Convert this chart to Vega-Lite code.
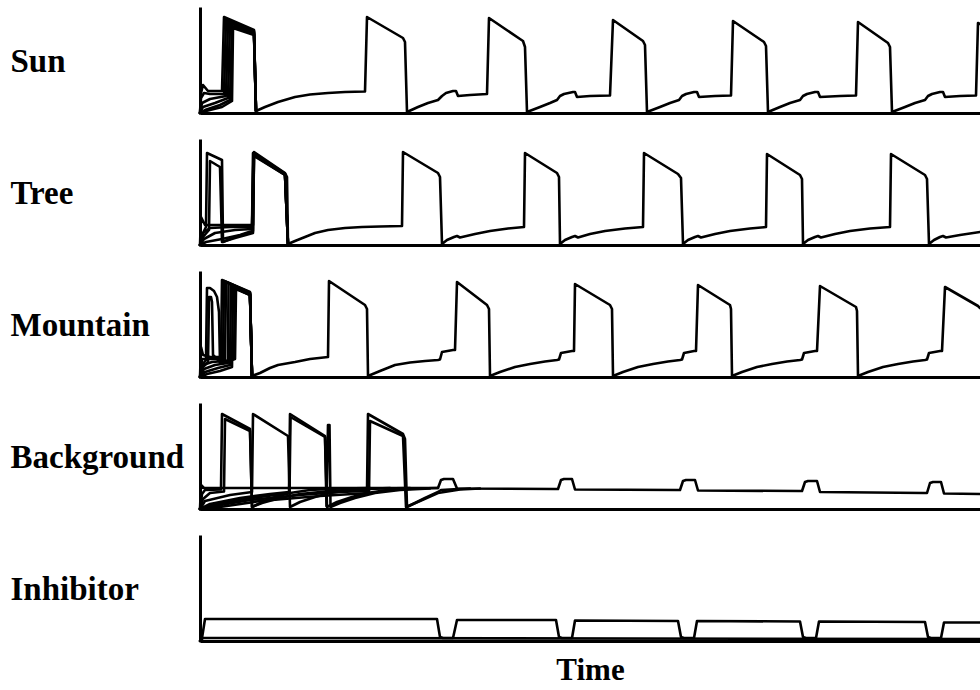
{
"$schema": "https://vega.github.io/schema/vega-lite/v6.json",
"background": "white",
"padding": {"left": 10, "top": 7, "right": 0, "bottom": 0},
"spacing": 26,
"bounds": "flush",
"config": {
  "view": {"stroke": null},
  "axis": {"grid": false, "ticks": false, "labels": false, "domainColor": "black", "domainWidth": 3, "titleFont": "Liberation Serif", "titleFontSize": 33, "titleFontWeight": "bold", "titleColor": "black"},
  "axisY": {"titleAngle": 0, "titleAlign": "left", "titleBaseline": "middle", "titleX": -190, "titleY": 54},
  "line": {"color": "black", "strokeWidth": 2.6, "strokeCap": "round", "strokeJoin": "round"}
},
"datasets": {
"sun": [
{"s":"a","t":0,"v":0},{"s":"a","t":1,"v":20},{"s":"a","t":3,"v":28},{"s":"a","t":8,"v":22},{"s":"a","t":22,"v":22},{"s":"a","t":24,"v":96},{"s":"a","t":54,"v":83},{"s":"a","t":56,"v":2},{"s":"a","t":65,"v":6},{"s":"a","t":78,"v":11},{"s":"a","t":95,"v":16},{"s":"a","t":110,"v":18.5},{"s":"a","t":128,"v":20},{"s":"a","t":145,"v":21},{"s":"a","t":165,"v":21.5},{"s":"a","t":167,"v":96},{"s":"a","t":203,"v":75},{"s":"a","t":205,"v":71},{"s":"a","t":207,"v":1},
{"s":"a","t":218,"v":6},{"s":"a","t":228,"v":10},{"s":"a","t":238,"v":13},{"s":"a","t":242,"v":17},{"s":"a","t":246,"v":20},{"s":"a","t":253,"v":22},{"s":"a","t":256,"v":22},{"s":"a","t":258,"v":17},{"s":"a","t":270,"v":18},{"s":"a","t":287,"v":19},{"s":"a","t":289,"v":95},{"s":"a","t":320,"v":74},{"s":"a","t":323,"v":72},{"s":"a","t":325,"v":66},{"s":"a","t":327,"v":1},
{"s":"a","t":340,"v":6},{"s":"a","t":350,"v":10},{"s":"a","t":357,"v":13},{"s":"a","t":360,"v":17},{"s":"a","t":364,"v":19},{"s":"a","t":373,"v":21},{"s":"a","t":375,"v":21},{"s":"a","t":377,"v":16},{"s":"a","t":390,"v":17},{"s":"a","t":410,"v":17.5},{"s":"a","t":413,"v":93},{"s":"a","t":443,"v":72},{"s":"a","t":445,"v":68},{"s":"a","t":447,"v":1},
{"s":"a","t":460,"v":6},{"s":"a","t":470,"v":10},{"s":"a","t":479,"v":13},{"s":"a","t":482,"v":17},{"s":"a","t":486,"v":19},{"s":"a","t":494,"v":21},{"s":"a","t":497,"v":21},{"s":"a","t":499,"v":16},{"s":"a","t":515,"v":17},{"s":"a","t":531,"v":17.5},{"s":"a","t":533,"v":92},{"s":"a","t":564,"v":71},{"s":"a","t":566,"v":67},{"s":"a","t":568,"v":1},
{"s":"a","t":580,"v":6},{"s":"a","t":590,"v":10},{"s":"a","t":600,"v":13},{"s":"a","t":603,"v":17},{"s":"a","t":607,"v":19},{"s":"a","t":615,"v":21},{"s":"a","t":618,"v":21},{"s":"a","t":620,"v":16},{"s":"a","t":640,"v":17},{"s":"a","t":656,"v":17.5},{"s":"a","t":658,"v":91},{"s":"a","t":688,"v":70},{"s":"a","t":690,"v":66},{"s":"a","t":692,"v":1},
{"s":"a","t":705,"v":6},{"s":"a","t":715,"v":10},{"s":"a","t":725,"v":13},{"s":"a","t":728,"v":17},{"s":"a","t":732,"v":19},{"s":"a","t":740,"v":21},{"s":"a","t":743,"v":21},{"s":"a","t":745,"v":16},{"s":"a","t":760,"v":17},{"s":"a","t":776,"v":17.5},{"s":"a","t":778,"v":90},{"s":"a","t":780,"v":89},
{"s":"b","t":0,"v":0},{"s":"b","t":1,"v":15},{"s":"b","t":4,"v":20},{"s":"b","t":10,"v":19},{"s":"b","t":24,"v":19},{"s":"b","t":26,"v":94},{"s":"b","t":54,"v":82},{"s":"b","t":56,"v":2},
{"s":"c","t":0,"v":0},{"s":"c","t":2,"v":10},{"s":"c","t":10,"v":14},{"s":"c","t":26,"v":17},{"s":"c","t":28,"v":92},{"s":"c","t":54,"v":81},{"s":"c","t":56,"v":2},
{"s":"d","t":0,"v":0},{"s":"d","t":3,"v":6},{"s":"d","t":15,"v":10},{"s":"d","t":28,"v":15},{"s":"d","t":30,"v":90},{"s":"d","t":54,"v":80},{"s":"d","t":56,"v":2},
{"s":"e","t":0,"v":0},{"s":"e","t":5,"v":3},{"s":"e","t":20,"v":8},{"s":"e","t":30,"v":13},{"s":"e","t":32,"v":87},{"s":"e","t":54,"v":79},{"s":"e","t":56,"v":2},
{"s":"f","t":0,"v":0},{"s":"f","t":6,"v":2},{"s":"f","t":22,"v":6},{"s":"f","t":32,"v":12},{"s":"f","t":33,"v":85},{"s":"f","t":54,"v":78},{"s":"f","t":56,"v":2}
],
"tree": [
{"s":"a","t":0,"v":0},{"s":"a","t":1,"v":28},{"s":"a","t":3,"v":24},{"s":"a","t":5,"v":20},{"s":"a","t":53,"v":20},{"s":"a","t":54,"v":93},{"s":"a","t":85,"v":72},{"s":"a","t":87,"v":68},{"s":"a","t":88,"v":1},
{"s":"a","t":95,"v":4},{"s":"a","t":105,"v":8},{"s":"a","t":115,"v":12},{"s":"a","t":128,"v":15},{"s":"a","t":145,"v":17},{"s":"a","t":162,"v":18},{"s":"a","t":180,"v":18.5},{"s":"a","t":202,"v":19},{"s":"a","t":203,"v":93},{"s":"a","t":238,"v":72},{"s":"a","t":240,"v":68},{"s":"a","t":242,"v":1},
{"s":"a","t":247,"v":5},{"s":"a","t":254,"v":8},{"s":"a","t":257,"v":9},{"s":"a","t":260,"v":7.5},{"s":"a","t":275,"v":11},{"s":"a","t":290,"v":14},{"s":"a","t":308,"v":16.5},{"s":"a","t":324,"v":18},{"s":"a","t":325,"v":92},{"s":"a","t":357,"v":72},{"s":"a","t":359,"v":68},{"s":"a","t":360,"v":1},
{"s":"a","t":365,"v":5},{"s":"a","t":372,"v":8},{"s":"a","t":375,"v":9},{"s":"a","t":378,"v":7.5},{"s":"a","t":390,"v":11},{"s":"a","t":405,"v":14},{"s":"a","t":425,"v":16.5},{"s":"a","t":443,"v":18},{"s":"a","t":444,"v":92},{"s":"a","t":478,"v":71},{"s":"a","t":481,"v":67},{"s":"a","t":483,"v":1},
{"s":"a","t":488,"v":5},{"s":"a","t":495,"v":8},{"s":"a","t":498,"v":9},{"s":"a","t":501,"v":7.5},{"s":"a","t":515,"v":11},{"s":"a","t":530,"v":14},{"s":"a","t":550,"v":16.5},{"s":"a","t":566,"v":18},{"s":"a","t":567,"v":91},{"s":"a","t":600,"v":70},{"s":"a","t":602,"v":66},{"s":"a","t":603,"v":1},
{"s":"a","t":608,"v":5},{"s":"a","t":615,"v":8},{"s":"a","t":618,"v":9},{"s":"a","t":621,"v":7.5},{"s":"a","t":635,"v":11},{"s":"a","t":650,"v":14},{"s":"a","t":670,"v":16.5},{"s":"a","t":690,"v":18},{"s":"a","t":691,"v":91},{"s":"a","t":725,"v":70},{"s":"a","t":727,"v":66},{"s":"a","t":729,"v":1},
{"s":"a","t":734,"v":5},{"s":"a","t":740,"v":8},{"s":"a","t":743,"v":9},{"s":"a","t":746,"v":7.5},{"s":"a","t":760,"v":10},{"s":"a","t":780,"v":13},
{"s":"b","t":0,"v":0},{"s":"b","t":2,"v":10},{"s":"b","t":6,"v":18},{"s":"b","t":7,"v":92},{"s":"b","t":22,"v":85},{"s":"b","t":23,"v":3},{"s":"b","t":35,"v":8},{"s":"b","t":52,"v":13},{"s":"b","t":53,"v":14},{"s":"b","t":54,"v":91},{"s":"b","t":85,"v":71},{"s":"b","t":88,"v":1},
{"s":"c","t":0,"v":0},{"s":"c","t":3,"v":8},{"s":"c","t":9,"v":15},{"s":"c","t":10,"v":84},{"s":"c","t":20,"v":78},{"s":"c","t":22,"v":3},{"s":"c","t":35,"v":7},{"s":"c","t":53,"v":12},{"s":"c","t":54,"v":89},{"s":"c","t":85,"v":70},{"s":"c","t":88,"v":1},
{"s":"d","t":0,"v":0},{"s":"d","t":3,"v":12},{"s":"d","t":10,"v":17},{"s":"d","t":30,"v":18},{"s":"d","t":52,"v":18},{"s":"d","t":53,"v":92},{"s":"d","t":85,"v":71.5},{"s":"d","t":88,"v":1},
{"s":"e","t":0,"v":0},{"s":"e","t":4,"v":6},{"s":"e","t":15,"v":12},{"s":"e","t":35,"v":15},{"s":"e","t":52,"v":16},{"s":"e","t":53.5,"v":91},{"s":"e","t":85,"v":70.5},{"s":"e","t":88,"v":1},
{"s":"f","t":0,"v":0},{"s":"f","t":6,"v":3},{"s":"f","t":22,"v":6},{"s":"f","t":40,"v":10},{"s":"f","t":52,"v":14},{"s":"f","t":53.5,"v":90},{"s":"f","t":85,"v":70},{"s":"f","t":88,"v":1}
],
"mountain": [
{"s":"a","t":0,"v":0},{"s":"a","t":1,"v":30},{"s":"a","t":3,"v":22},{"s":"a","t":10,"v":20},{"s":"a","t":21,"v":20},{"s":"a","t":22,"v":97},{"s":"a","t":50,"v":85},{"s":"a","t":52,"v":1},
{"s":"a","t":60,"v":4},{"s":"a","t":70,"v":9},{"s":"a","t":78,"v":12},{"s":"a","t":95,"v":15},{"s":"a","t":110,"v":18},{"s":"a","t":128,"v":20},{"s":"a","t":129,"v":96},{"s":"a","t":165,"v":72},{"s":"a","t":167,"v":68},{"s":"a","t":168,"v":1},
{"s":"a","t":180,"v":6},{"s":"a","t":195,"v":12},{"s":"a","t":210,"v":14.5},{"s":"a","t":225,"v":16},{"s":"a","t":238,"v":17},{"s":"a","t":240,"v":17.5},{"s":"a","t":242,"v":25},{"s":"a","t":253,"v":27},{"s":"a","t":255,"v":27},{"s":"a","t":257,"v":95},{"s":"a","t":287,"v":72},{"s":"a","t":289,"v":68},{"s":"a","t":290,"v":1},
{"s":"a","t":300,"v":5},{"s":"a","t":315,"v":10},{"s":"a","t":330,"v":13},{"s":"a","t":345,"v":15.5},{"s":"a","t":357,"v":17},{"s":"a","t":359,"v":17.5},{"s":"a","t":361,"v":24},{"s":"a","t":372,"v":26},{"s":"a","t":374,"v":26},{"s":"a","t":375,"v":93},{"s":"a","t":410,"v":72},{"s":"a","t":412,"v":68},{"s":"a","t":413,"v":1},
{"s":"a","t":423,"v":5},{"s":"a","t":438,"v":10},{"s":"a","t":453,"v":13},{"s":"a","t":468,"v":15.5},{"s":"a","t":480,"v":17},{"s":"a","t":482,"v":17.5},{"s":"a","t":484,"v":24},{"s":"a","t":494,"v":26},{"s":"a","t":496,"v":26},{"s":"a","t":498,"v":92},{"s":"a","t":530,"v":72},{"s":"a","t":531,"v":68},{"s":"a","t":532,"v":1},
{"s":"a","t":542,"v":5},{"s":"a","t":557,"v":10},{"s":"a","t":572,"v":13},{"s":"a","t":587,"v":15.5},{"s":"a","t":600,"v":17},{"s":"a","t":602,"v":17.5},{"s":"a","t":604,"v":24},{"s":"a","t":615,"v":26},{"s":"a","t":617,"v":26},{"s":"a","t":620,"v":91},{"s":"a","t":656,"v":70},{"s":"a","t":657,"v":66},{"s":"a","t":658,"v":1},
{"s":"a","t":668,"v":5},{"s":"a","t":683,"v":10},{"s":"a","t":698,"v":13},{"s":"a","t":713,"v":15.5},{"s":"a","t":725,"v":17},{"s":"a","t":727,"v":17.5},{"s":"a","t":729,"v":24},{"s":"a","t":740,"v":26},{"s":"a","t":742,"v":26},{"s":"a","t":745,"v":90},{"s":"a","t":778,"v":71},{"s":"a","t":780,"v":69},
{"s":"b","t":0,"v":0},{"s":"b","t":2,"v":18},{"s":"b","t":10,"v":18},{"s":"b","t":23,"v":18},{"s":"b","t":24,"v":96},{"s":"b","t":50,"v":84.5},{"s":"b","t":52,"v":1},
{"s":"c","t":0,"v":0},{"s":"c","t":3,"v":12},{"s":"c","t":12,"v":15},{"s":"c","t":25,"v":16},{"s":"c","t":26,"v":95},{"s":"c","t":50,"v":84},{"s":"c","t":52,"v":1},
{"s":"d","t":0,"v":0},{"s":"d","t":4,"v":8},{"s":"d","t":15,"v":12},{"s":"d","t":28,"v":14},{"s":"d","t":28.5,"v":94},{"s":"d","t":50,"v":83.5},{"s":"d","t":52,"v":1},
{"s":"e","t":0,"v":0},{"s":"e","t":5,"v":5},{"s":"e","t":18,"v":9},{"s":"e","t":30,"v":12},{"s":"e","t":31,"v":92},{"s":"e","t":50,"v":83},{"s":"e","t":52,"v":1},
{"s":"f","t":0,"v":0},{"s":"f","t":7,"v":3},{"s":"f","t":20,"v":6},{"s":"f","t":32,"v":10},{"s":"f","t":33,"v":90},{"s":"f","t":50,"v":82.5},{"s":"f","t":52,"v":1},
{"s":"g","t":0,"v":0},{"s":"g","t":2,"v":12},{"s":"g","t":6,"v":17},{"s":"g","t":7,"v":89},{"s":"g","t":10,"v":89},{"s":"g","t":14,"v":86},{"s":"g","t":17,"v":80},{"s":"g","t":19,"v":65},{"s":"g","t":20,"v":14},{"s":"g","t":28,"v":16},{"s":"g","t":35,"v":18},{"s":"g","t":36,"v":88},{"s":"g","t":50,"v":82},{"s":"g","t":52,"v":1},
{"s":"h","t":0,"v":0},{"s":"h","t":3,"v":10},{"s":"h","t":8,"v":15},{"s":"h","t":9,"v":80},{"s":"h","t":11,"v":80},{"s":"h","t":12,"v":75},{"s":"h","t":13,"v":22},{"s":"h","t":20,"v":15},{"s":"h","t":30,"v":17},{"s":"h","t":34,"v":18},{"s":"h","t":35,"v":89},{"s":"h","t":50,"v":82},{"s":"h","t":52,"v":1}
],
"background": [
{"s":"r","t":0,"v":0},{"s":"r","t":1,"v":24},{"s":"r","t":4,"v":21},{"s":"r","t":238,"v":21},{"s":"r","t":241,"v":29},{"s":"r","t":244,"v":30},{"s":"r","t":253,"v":30},{"s":"r","t":257,"v":20.5},{"s":"r","t":355,"v":20},{"s":"r","t":358,"v":20},{"s":"r","t":361,"v":29},{"s":"r","t":364,"v":30},{"s":"r","t":372,"v":30},{"s":"r","t":375,"v":19.5},{"s":"r","t":477,"v":19},{"s":"r","t":480,"v":19},{"s":"r","t":483,"v":28},{"s":"r","t":486,"v":29},{"s":"r","t":495,"v":29},{"s":"r","t":498,"v":18.5},{"s":"r","t":599,"v":18},{"s":"r","t":602,"v":18},{"s":"r","t":605,"v":27},{"s":"r","t":608,"v":28},{"s":"r","t":617,"v":28},{"s":"r","t":620,"v":17},{"s":"r","t":724,"v":16},{"s":"r","t":727,"v":16},{"s":"r","t":730,"v":26},{"s":"r","t":733,"v":27},{"s":"r","t":741,"v":27},{"s":"r","t":744,"v":15.5},{"s":"r","t":780,"v":15},
{"s":"a","t":0,"v":0},{"s":"a","t":2,"v":15},{"s":"a","t":5,"v":19},{"s":"a","t":21,"v":19.5},{"s":"a","t":22,"v":95},{"s":"a","t":50,"v":80},{"s":"a","t":52,"v":2},{"s":"a","t":62,"v":7},{"s":"a","t":75,"v":12},{"s":"a","t":90,"v":16},{"s":"a","t":110,"v":19},{"s":"a","t":140,"v":20.5},{"s":"a","t":170,"v":21},
{"s":"b","t":0,"v":0},{"s":"b","t":3,"v":10},{"s":"b","t":10,"v":16},{"s":"b","t":24,"v":17.5},{"s":"b","t":25,"v":90},{"s":"b","t":50,"v":78},{"s":"b","t":52,"v":2},{"s":"b","t":62,"v":6},{"s":"b","t":80,"v":11},{"s":"b","t":100,"v":15},{"s":"b","t":130,"v":18},{"s":"b","t":160,"v":20},{"s":"b","t":190,"v":21},
{"s":"c","t":0,"v":0},{"s":"c","t":5,"v":8},{"s":"c","t":30,"v":14},{"s":"c","t":52,"v":17},{"s":"c","t":53,"v":95},{"s":"c","t":88,"v":73},{"s":"c","t":90,"v":2},{"s":"c","t":100,"v":7},{"s":"c","t":115,"v":12},{"s":"c","t":130,"v":16},{"s":"c","t":150,"v":19},{"s":"c","t":180,"v":20.5},{"s":"c","t":210,"v":21},
{"s":"d","t":0,"v":0},{"s":"d","t":10,"v":5},{"s":"d","t":40,"v":11},{"s":"d","t":70,"v":15},{"s":"d","t":89,"v":17},{"s":"d","t":90,"v":95},{"s":"d","t":125,"v":73},{"s":"d","t":127,"v":2},{"s":"d","t":137,"v":7},{"s":"d","t":152,"v":12},{"s":"d","t":167,"v":16},{"s":"d","t":187,"v":19},{"s":"d","t":217,"v":20.5},{"s":"d","t":238,"v":21},
{"s":"e","t":0,"v":0},{"s":"e","t":12,"v":4},{"s":"e","t":45,"v":10},{"s":"e","t":75,"v":14},{"s":"e","t":89.5,"v":16},{"s":"e","t":90.5,"v":92},{"s":"e","t":125,"v":72},{"s":"e","t":126.5,"v":3},{"s":"e","t":128,"v":84},{"s":"e","t":129.5,"v":84},{"s":"e","t":130.5,"v":2},{"s":"e","t":140,"v":6},{"s":"e","t":155,"v":11},{"s":"e","t":175,"v":16},{"s":"e","t":200,"v":19},{"s":"e","t":230,"v":20.5},
{"s":"f","t":0,"v":0},{"s":"f","t":15,"v":3},{"s":"f","t":50,"v":9},{"s":"f","t":100,"v":14},{"s":"f","t":140,"v":17},{"s":"f","t":167,"v":18},{"s":"f","t":168,"v":95},{"s":"f","t":203,"v":75},{"s":"f","t":205,"v":70},{"s":"f","t":207,"v":2},{"s":"f","t":215,"v":6},{"s":"f","t":225,"v":11},{"s":"f","t":238,"v":17},{"s":"f","t":241,"v":19},{"s":"f","t":258,"v":20},{"s":"f","t":270,"v":20.5},
{"s":"g","t":0,"v":0},{"s":"g","t":20,"v":2},{"s":"g","t":60,"v":8},{"s":"g","t":120,"v":13},{"s":"g","t":169,"v":16},{"s":"g","t":170,"v":88},{"s":"g","t":203,"v":73},{"s":"g","t":206,"v":2},{"s":"g","t":220,"v":8},{"s":"g","t":238,"v":16},{"s":"g","t":260,"v":19.5},{"s":"g","t":280,"v":20.5}
],
"inhibitor": [
{"s":"a","t":0,"v":0},{"s":"a","t":2,"v":3},{"s":"a","t":5,"v":22},{"s":"a","t":7,"v":22},{"s":"a","t":237,"v":22},{"s":"a","t":240,"v":4},{"s":"a","t":243,"v":3},{"s":"a","t":253,"v":3},{"s":"a","t":257,"v":21},{"s":"a","t":356,"v":21},{"s":"a","t":359,"v":4},{"s":"a","t":362,"v":3},{"s":"a","t":372,"v":3},{"s":"a","t":375,"v":20.5},{"s":"a","t":478,"v":20},{"s":"a","t":481,"v":4},{"s":"a","t":484,"v":3},{"s":"a","t":494,"v":3},{"s":"a","t":497,"v":20},{"s":"a","t":600,"v":19.5},{"s":"a","t":603,"v":4},{"s":"a","t":606,"v":3},{"s":"a","t":616,"v":3},{"s":"a","t":619,"v":19.5},{"s":"a","t":725,"v":19},{"s":"a","t":728,"v":4},{"s":"a","t":731,"v":3},{"s":"a","t":741,"v":3},{"s":"a","t":744,"v":18.5},{"s":"a","t":780,"v":18.5},
{"s":"b","t":0,"v":0},{"s":"b","t":3,"v":3},{"s":"b","t":780,"v":2}
]
},
"vconcat": [
{"width": 780, "height": 106, "data": {"name": "sun"}, "mark": {"type": "line"},
 "encoding": {"x": {"field": "t", "type": "quantitative", "scale": {"domain": [0, 780], "nice": false, "zero": false}, "axis": {"title": null}},
  "y": {"field": "v", "type": "quantitative", "scale": {"domain": [0, 106], "nice": false}, "axis": {"title": "Sun"}},
  "detail": {"field": "s", "type": "nominal"}}},
{"width": 780, "height": 106, "data": {"name": "tree"}, "mark": {"type": "line"},
 "encoding": {"x": {"field": "t", "type": "quantitative", "scale": {"domain": [0, 780], "nice": false, "zero": false}, "axis": {"title": null}},
  "y": {"field": "v", "type": "quantitative", "scale": {"domain": [0, 106], "nice": false}, "axis": {"title": "Tree"}},
  "detail": {"field": "s", "type": "nominal"}}},
{"width": 780, "height": 106, "data": {"name": "mountain"}, "mark": {"type": "line"},
 "encoding": {"x": {"field": "t", "type": "quantitative", "scale": {"domain": [0, 780], "nice": false, "zero": false}, "axis": {"title": null}},
  "y": {"field": "v", "type": "quantitative", "scale": {"domain": [0, 106], "nice": false}, "axis": {"title": "Mountain"}},
  "detail": {"field": "s", "type": "nominal"}}},
{"width": 780, "height": 106, "data": {"name": "background"}, "mark": {"type": "line"},
 "encoding": {"x": {"field": "t", "type": "quantitative", "scale": {"domain": [0, 780], "nice": false, "zero": false}, "axis": {"title": null}},
  "y": {"field": "v", "type": "quantitative", "scale": {"domain": [0, 106], "nice": false}, "axis": {"title": "Background"}},
  "detail": {"field": "s", "type": "nominal"}}},
{"width": 780, "height": 106, "data": {"name": "inhibitor"}, "mark": {"type": "line"},
 "encoding": {"x": {"field": "t", "type": "quantitative", "scale": {"domain": [0, 780], "nice": false, "zero": false}, "axis": {"title": "Time", "titlePadding": 14, "titleFontSize": 31}},
  "y": {"field": "v", "type": "quantitative", "scale": {"domain": [0, 106], "nice": false}, "axis": {"title": "Inhibitor"}},
  "detail": {"field": "s", "type": "nominal"}}}
]
}
